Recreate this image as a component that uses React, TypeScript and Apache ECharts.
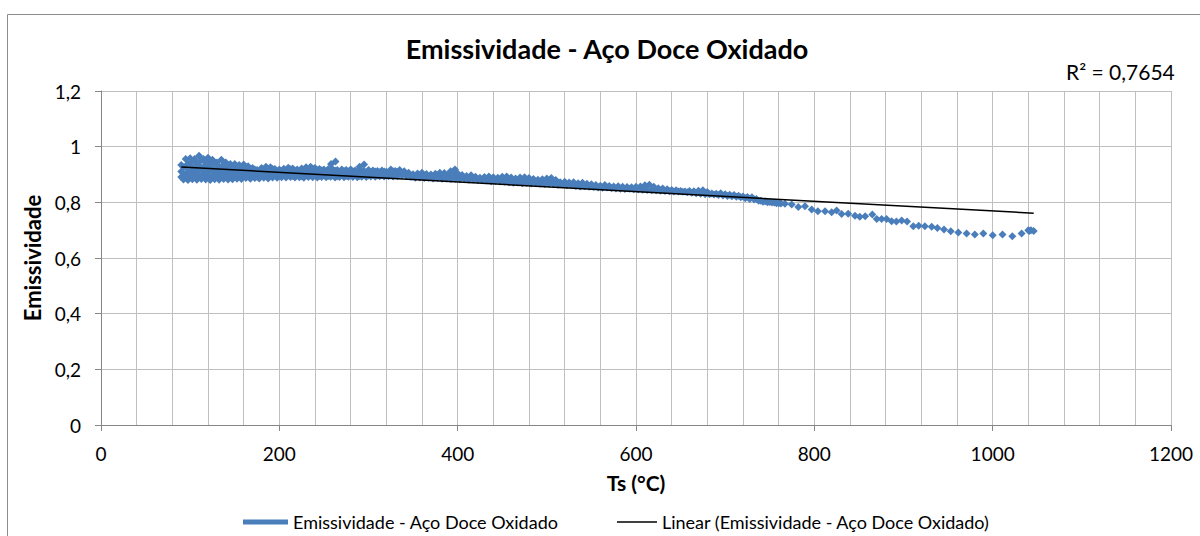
import React, { useEffect, useRef } from "react";
import * as echarts from "echarts";

const FONT = "Lato, 'Open Sans', sans-serif";

const titleText = "Emissividade - Aço Doce Oxidado";
const seriesName = "Emissividade - Aço Doce Oxidado";
const trendName = "Linear (Emissividade - Aço Doce Oxidado)";
const xAxisName = "Ts (°C)";
const yAxisName = "Emissividade";
const rSquaredText = "R² = 0,7654";

// Dense band, left part (Ts 90–330 °C)
const xsA = [90, 95, 100, 105, 110, 115, 120, 125, 130, 135, 140, 145, 150, 155, 160, 165, 170, 175, 180, 185, 190, 195, 200, 205, 210, 215, 220, 225, 230, 235, 240, 245, 250, 255, 260, 265, 270, 275, 280, 285, 290, 295, 300, 305, 310, 315, 320, 325, 330];
const xsA2 = [92.5, 97.5, 102.5, 107.5, 112.5, 117.5, 122.5, 127.5, 132.5, 137.5, 142.5, 147.5, 152.5, 157.5, 162.5, 167.5, 172.5, 177.5, 182.5, 187.5, 192.5, 197.5, 202.5, 207.5, 212.5, 217.5, 222.5, 227.5, 232.5, 237.5, 242.5, 247.5, 252.5, 257.5, 262.5, 267.5, 272.5, 277.5, 282.5, 287.5, 292.5, 297.5, 302.5, 307.5, 312.5, 317.5, 322.5, 327.5, 332.5];
const rowA1 = [0.934, 0.956, 0.958, 0.956, 0.967, 0.956, 0.960, 0.953, 0.943, 0.953, 0.943, 0.938, 0.938, 0.934, 0.936, 0.930, 0.923, 0.916, 0.923, 0.928, 0.926, 0.920, 0.918, 0.921, 0.924, 0.922, 0.918, 0.922, 0.926, 0.928, 0.923, 0.920, 0.918, 0.920, 0.918, 0.916, 0.918, 0.916, 0.918, 0.914, 0.916, 0.913, 0.916, 0.914, 0.913, 0.914, 0.910, 0.918, 0.913];
const rowA2 = [0.926, 0.939, 0.945, 0.940, 0.951, 0.943, 0.942, 0.941, 0.929, 0.935, 0.932, 0.925, 0.929, 0.922, 0.927, 0.919, 0.918, 0.909, 0.917, 0.919, 0.920, 0.912, 0.913, 0.914, 0.919, 0.914, 0.913, 0.917, 0.918, 0.921, 0.915, 0.915, 0.911, 0.913, 0.914, 0.910, 0.913, 0.911, 0.912, 0.908, 0.912, 0.907, 0.910, 0.911, 0.908, 0.911, 0.906, 0.912, 0.910];
const rowA3 = [0.911, 0.927, 0.930, 0.924, 0.931, 0.928, 0.927, 0.923, 0.921, 0.926, 0.917, 0.918, 0.914, 0.915, 0.913, 0.914, 0.906, 0.905, 0.910, 0.911, 0.909, 0.909, 0.905, 0.910, 0.908, 0.911, 0.905, 0.908, 0.913, 0.911, 0.911, 0.906, 0.908, 0.907, 0.905, 0.907, 0.904, 0.906, 0.907, 0.906, 0.904, 0.906, 0.905, 0.907, 0.904, 0.905, 0.905, 0.907, 0.904];
const rowA4 = [0.904, 0.909, 0.914, 0.912, 0.917, 0.909, 0.915, 0.908, 0.908, 0.911, 0.905, 0.906, 0.905, 0.903, 0.907, 0.902, 0.902, 0.899, 0.903, 0.902, 0.904, 0.900, 0.902, 0.900, 0.905, 0.901, 0.903, 0.900, 0.905, 0.903, 0.904, 0.901, 0.902, 0.900, 0.903, 0.899, 0.901, 0.902, 0.899, 0.901, 0.900, 0.902, 0.900, 0.903, 0.900, 0.899, 0.901, 0.903, 0.901];
const rowA5 = [0.891, 0.898, 0.896, 0.899, 0.897, 0.899, 0.897, 0.895, 0.893, 0.897, 0.895, 0.892, 0.896, 0.894, 0.897, 0.893, 0.894, 0.892, 0.895, 0.897, 0.895, 0.896, 0.894, 0.897, 0.896, 0.895, 0.897, 0.894, 0.898, 0.896, 0.897, 0.895, 0.897, 0.895, 0.896, 0.894, 0.897, 0.895, 0.896, 0.897, 0.895, 0.897, 0.896, 0.898, 0.896, 0.898, 0.896, 0.899, 0.897];
const rowA6 = [0.882, 0.880, 0.883, 0.881, 0.884, 0.882, 0.880, 0.883, 0.881, 0.884, 0.882, 0.883, 0.885, 0.884, 0.887, 0.885, 0.887, 0.886, 0.888, 0.886, 0.889, 0.888, 0.890, 0.889, 0.891, 0.889, 0.890, 0.888, 0.891, 0.890, 0.889, 0.891, 0.890, 0.892, 0.889, 0.891, 0.890, 0.892, 0.891, 0.890, 0.892, 0.891, 0.893, 0.892, 0.894, 0.893, 0.894, 0.893, 0.895];

// Dense band, right part (Ts 335–762 °C)
const xsB = [335, 340, 345, 350, 355, 360, 365, 370, 375, 380, 385, 390, 395, 400, 405, 410, 415, 420, 425, 430, 435, 440, 445, 450, 455, 460, 465, 470, 475, 480, 485, 490, 495, 500, 505, 510, 515, 520, 525, 530, 535, 540, 545, 550, 555, 560, 565, 570, 575, 580, 585, 590, 595, 600, 605, 610, 615, 620, 625, 630, 635, 640, 645, 650, 655, 660, 665, 670, 675, 680, 685, 690, 695, 700, 705, 710, 715, 720, 725, 730, 735, 740, 745, 750, 755, 760];
const xsB2 = [337.5, 342.5, 347.5, 352.5, 357.5, 362.5, 367.5, 372.5, 377.5, 382.5, 387.5, 392.5, 397.5, 402.5, 407.5, 412.5, 417.5, 422.5, 427.5, 432.5, 437.5, 442.5, 447.5, 452.5, 457.5, 462.5, 467.5, 472.5, 477.5, 482.5, 487.5, 492.5, 497.5, 502.5, 507.5, 512.5, 517.5, 522.5, 527.5, 532.5, 537.5, 542.5, 547.5, 552.5, 557.5, 562.5, 567.5, 572.5, 577.5, 582.5, 587.5, 592.5, 597.5, 602.5, 607.5, 612.5, 617.5, 622.5, 627.5, 632.5, 637.5, 642.5, 647.5, 652.5, 657.5, 662.5, 667.5, 672.5, 677.5, 682.5, 687.5, 692.5, 697.5, 702.5, 707.5, 712.5, 717.5, 722.5, 727.5, 732.5, 737.5, 742.5, 747.5, 752.5, 757.5, 762.5];
const rowBTop = [0.916, 0.912, 0.906, 0.901, 0.904, 0.906, 0.902, 0.900, 0.903, 0.906, 0.905, 0.902, 0.912, 0.904, 0.898, 0.895, 0.897, 0.892, 0.888, 0.891, 0.893, 0.890, 0.888, 0.892, 0.893, 0.889, 0.886, 0.889, 0.890, 0.887, 0.884, 0.881, 0.883, 0.886, 0.887, 0.880, 0.872, 0.874, 0.871, 0.872, 0.869, 0.870, 0.867, 0.865, 0.862, 0.860, 0.862, 0.859, 0.857, 0.858, 0.856, 0.855, 0.854, 0.856, 0.857, 0.861, 0.863, 0.856, 0.851, 0.850, 0.847, 0.844, 0.843, 0.841, 0.839, 0.841, 0.840, 0.842, 0.843, 0.837, 0.832, 0.831, 0.833, 0.829, 0.827, 0.826, 0.824, 0.821, 0.819, 0.818, 0.812, 0.806, 0.804, 0.801, 0.799, 0.797];
const rowBMid = [0.907, 0.903, 0.899, 0.895, 0.897, 0.896, 0.894, 0.894, 0.895, 0.895, 0.894, 0.893, 0.897, 0.893, 0.891, 0.888, 0.889, 0.887, 0.884, 0.885, 0.884, 0.883, 0.882, 0.883, 0.882, 0.880, 0.878, 0.879, 0.879, 0.877, 0.876, 0.874, 0.875, 0.876, 0.876, 0.872, 0.868, 0.868, 0.866, 0.866];
const rowBBot = [0.897, 0.895, 0.892, 0.888, 0.889, 0.887, 0.888, 0.886, 0.887, 0.885, 0.886, 0.884, 0.885, 0.883, 0.884, 0.881, 0.882, 0.880, 0.879, 0.878, 0.876, 0.877, 0.875, 0.874, 0.872, 0.870, 0.871, 0.869, 0.870, 0.868, 0.869, 0.867, 0.866, 0.867, 0.865, 0.863, 0.864, 0.861, 0.862, 0.859, 0.857, 0.858, 0.856, 0.855, 0.853, 0.852, 0.853, 0.851, 0.850, 0.849, 0.848, 0.849, 0.847, 0.846, 0.845, 0.844, 0.843, 0.843, 0.842, 0.841, 0.840, 0.839, 0.839, 0.838, 0.836, 0.834, 0.833, 0.831, 0.829, 0.829, 0.828, 0.826, 0.825, 0.823, 0.822, 0.820, 0.818, 0.815, 0.812, 0.810, 0.806, 0.802, 0.800, 0.799, 0.797, 0.796];

// Isolated high readings
const xsOut = [258, 263, 290, 295, 392, 397];
const ysOut = [0.938, 0.947, 0.928, 0.936, 0.912, 0.918];

// Sparse tail (Ts > 765 °C)
const xsTail = [767, 774.6, 782, 789.5, 797, 804, 812, 819.4, 825, 830.6, 838, 845.6, 851, 857, 865, 870, 875.5, 881, 886.7, 892, 898, 904, 911, 917, 924, 931.6, 938, 945.4, 953, 961.5, 970.8, 980, 989.5, 1000, 1011, 1022, 1032.5, 1040, 1041, 1043, 1046];
const ysTail = [0.795, 0.792, 0.783, 0.786, 0.774, 0.768, 0.768, 0.764, 0.771, 0.758, 0.759, 0.752, 0.748, 0.750, 0.756, 0.740, 0.740, 0.740, 0.732, 0.731, 0.735, 0.731, 0.714, 0.716, 0.714, 0.712, 0.708, 0.702, 0.696, 0.692, 0.688, 0.684, 0.688, 0.682, 0.684, 0.678, 0.688, 0.700, 0.697, 0.700, 0.697];

// Linear trend line end points
const trendX = [90, 1046];
const trendY = [0.927, 0.761];

export default function App() {
  const ref = useRef<HTMLDivElement>(null);

  useEffect(() => {
    if (!ref.current) return;
    const chart = echarts.init(ref.current, null, { renderer: "svg" });

    const pts: number[][] = [];
    const add = (xs: number[], ys: number[]) => {
      ys.forEach((y, i) => pts.push([xs[i], y]));
    };
    add(xsA, rowA1);
    add(xsA2, rowA2);
    add(xsA, rowA3);
    add(xsA2, rowA4);
    add(xsA, rowA5);
    add(xsA2, rowA6);
    add(xsB, rowBTop);
    add(xsB, rowBMid);
    add(xsB2, rowBBot);
    add(xsOut, ysOut);
    add(xsTail, ysTail);

    const trend = trendX.map((x, i) => [x, trendY[i]]);

    const gridColor = "#bfbfbf";
    const axisColor = "#868686";

    chart.setOption({
      animation: false,
      backgroundColor: "#ffffff",
      textStyle: { fontFamily: FONT },
      title: {
        text: titleText,
        left: 602,
        textAlign: "center",
        top: 30,
        textStyle: { fontFamily: FONT, fontSize: 27, fontWeight: "bold", color: "#000" },
      },
      grid: { left: 101, right: 29, top: 91, bottom: 111 },
      legend: [
        {
          data: [{ name: seriesName, icon: "rect" }],
          left: 238,
          top: 508,
          itemWidth: 45,
          itemHeight: 5,
          selectedMode: false,
          textStyle: { fontFamily: FONT, fontSize: 18, color: "#000" },
        },
        {
          data: [{ name: trendName, icon: "rect" }],
          left: 612,
          top: 508,
          itemWidth: 40,
          itemHeight: 1.5,
          selectedMode: false,
          textStyle: { fontFamily: FONT, fontSize: 18, color: "#000" },
        },
      ],
      xAxis: {
        type: "value",
        min: 0,
        max: 1200,
        interval: 200,
        name: xAxisName,
        nameLocation: "middle",
        nameGap: 47,
        nameTextStyle: { fontFamily: FONT, fontSize: 21, fontWeight: "bold", color: "#000" },
        axisLine: { show: true, onZero: false, lineStyle: { color: axisColor } },
        axisTick: { show: true, length: 6, lineStyle: { color: axisColor } },
        axisLabel: {
          fontFamily: FONT,
          fontSize: 19,
          color: "#000",
          margin: 19,
          formatter: (v: number) => String(v),
        },
        splitLine: { show: true, lineStyle: { color: gridColor } },
        minorTick: { show: false, splitNumber: 5 },
        minorSplitLine: { show: true, lineStyle: { color: gridColor } },
      },
      yAxis: {
        type: "value",
        min: 0,
        max: 1.2,
        interval: 0.2,
        name: yAxisName,
        nameLocation: "middle",
        nameRotate: 90,
        nameGap: 56,
        nameTextStyle: { fontFamily: FONT, fontSize: 22, fontWeight: "bold", color: "#000" },
        axisLine: { show: true, lineStyle: { color: axisColor } },
        axisTick: { show: true, length: 6, lineStyle: { color: axisColor } },
        axisLabel: {
          fontFamily: FONT,
          fontSize: 19,
          color: "#000",
          margin: 20,
          formatter: (v: number) => String(Number(v.toFixed(1))).replace(".", ","),
        },
        splitLine: { show: true, lineStyle: { color: gridColor } },
      },
      graphic: [
        {
          type: "rect",
          silent: true,
          shape: { x: 7.5, y: 14.5, width: 1260, height: 640 },
          style: { fill: "none", stroke: "#8c8c8c", lineWidth: 1 },
          z: 0,
        },
        {
          type: "text",
          silent: true,
          style: {
            text: rSquaredText,
            x: 1066,
            y: 71,
            align: "left",
            verticalAlign: "middle",
            fontFamily: FONT,
            fontSize: 21,
            fill: "#000",
          },
        },
      ],
      series: [
        {
          name: seriesName,
          type: "scatter",
          symbol: "diamond",
          symbolSize: 8,
          itemStyle: { color: "#4a7ebb", opacity: 1 },
          data: pts,
          z: 2,
        },
        {
          name: trendName,
          type: "line",
          data: trend,
          symbol: "none",
          itemStyle: { color: "#000" },
          lineStyle: { color: "#000", width: 1.5 },
          z: 3,
        },
      ],
    });

    return () => chart.dispose();
  }, []);

  return (
    <div
      ref={ref}
      style={{ position: "fixed", left: 0, top: 0, width: 1200, height: 536, background: "#fff" }}
    />
  );
}
